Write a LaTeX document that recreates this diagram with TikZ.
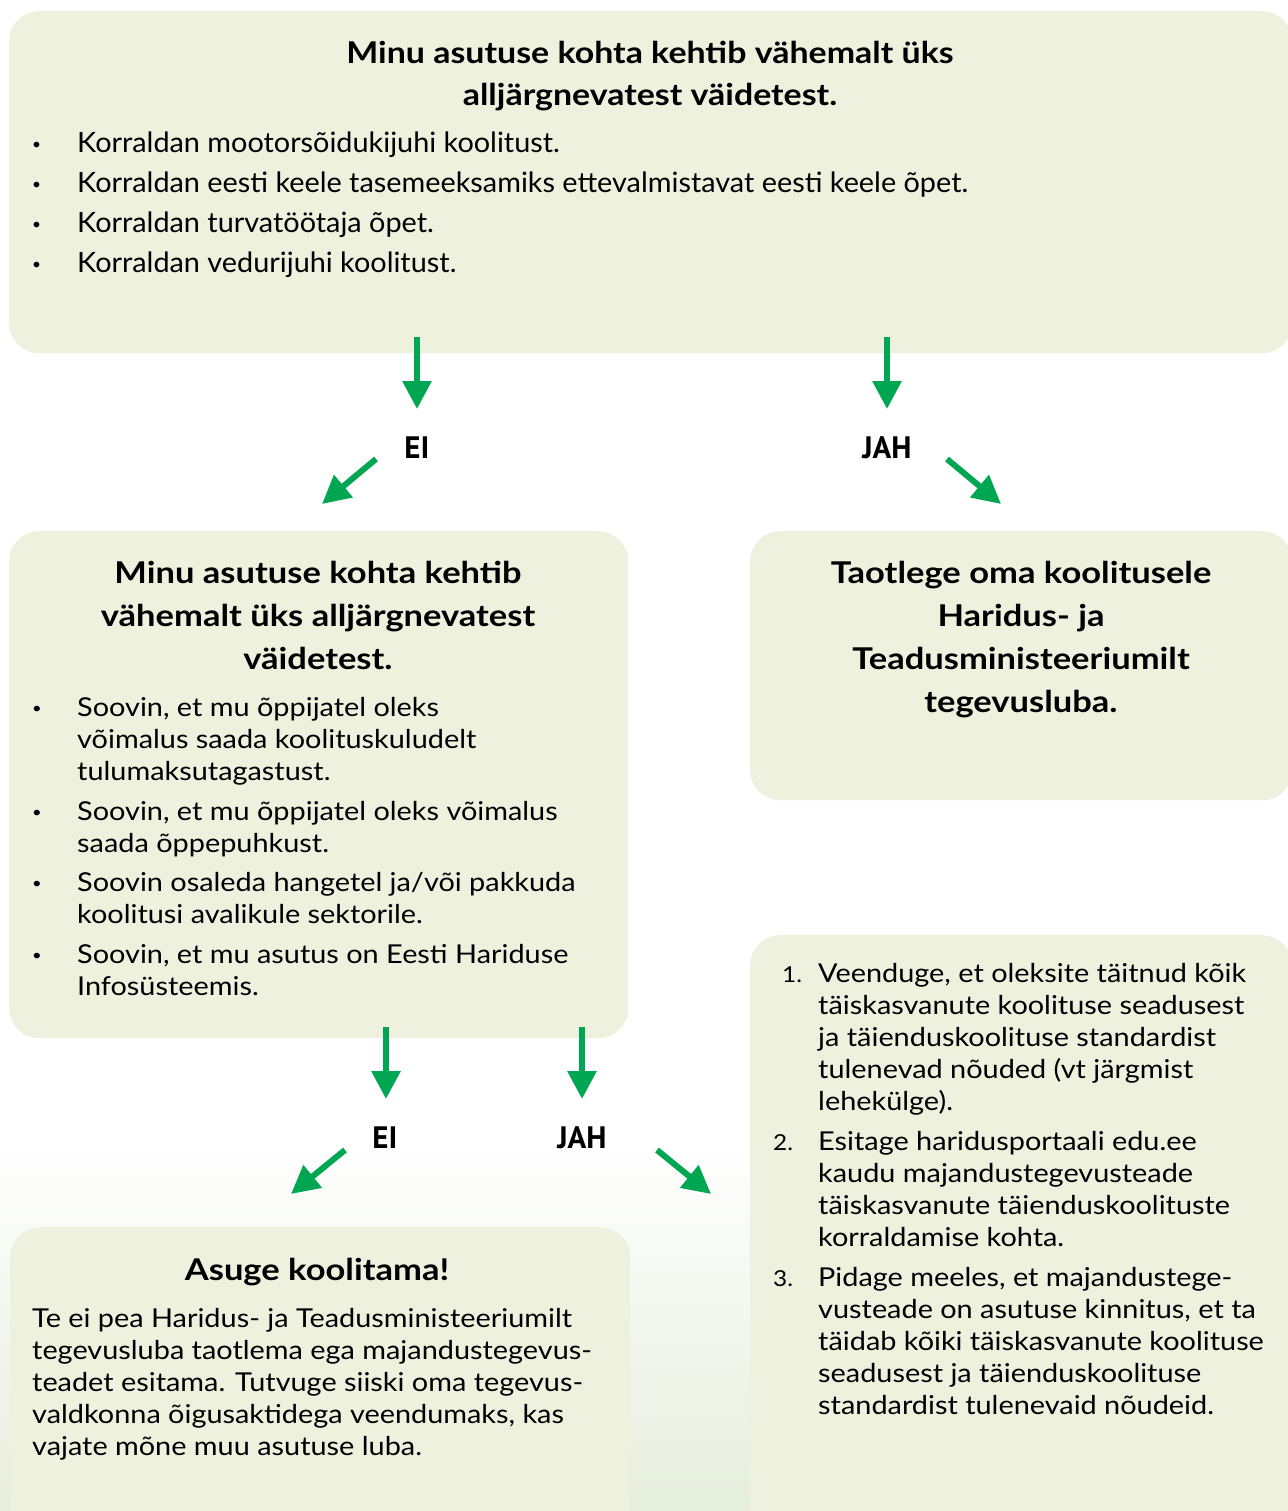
\documentclass[tikz,border=0pt]{standalone}
\usepackage{fontspec}
\setmainfont{Lato}
\newfontfamily\bodyA[FakeStretch=1.03]{Lato}
\newfontfamily\bodyB[FakeStretch=1.11]{Lato}
\newfontfamily\titleA[FakeStretch=1.13]{Lato}
\newfontfamily\titleB[FakeStretch=1.15]{Lato}
\newfontfamily\labelfont{PT Sans}
\usetikzlibrary{arrows.meta}
\definecolor{boxfill}{RGB}{237,241,222}
\definecolor{arrowgreen}{RGB}{0,166,81}
\definecolor{bgbottom}{RGB}{230,238,221}
\newcommand{\bl}{\leavevmode\llap{\makebox[45pt][l]{\raisebox{3pt}{\fontsize{15}{15}\selectfont •}}}}
\newcommand{\nm}[2]{\leavevmode\llap{\makebox[#1][l]{\fontsize{22}{22}\selectfont #2}}}
\begin{document}
\begin{tikzpicture}[x=1pt,y=-1pt,
  box/.style={fill=boxfill, rounded corners=30pt, inner sep=0pt, anchor=north west, draw=none},
  bodybig/.style={anchor=base west, inner sep=0pt, font=\bodyA\fontsize{28}{40}\selectfont},
  body/.style={anchor=base west, inner sep=0pt, font=\bodyB\fontsize{26}{32}\selectfont},
  titletop/.style={anchor=base, inner sep=0pt, font=\titleA\bfseries\fontsize{30}{42}\selectfont},
  title/.style={anchor=base, inner sep=0pt, font=\titleB\bfseries\fontsize{30}{43}\selectfont},
  yesno/.style={anchor=base, inner sep=0pt, font=\labelfont\bfseries\fontsize{31}{31}\selectfont},
  garrow/.style={draw=arrowgreen, line width=6pt, -{Triangle[length=28pt,width=28pt]}}
]
\useasboundingbox (0,0) rectangle (1287,1511);
\fill[white] (0,0) rectangle (1287,1511);
\shade[top color=white, bottom color=bgbottom] (0,1140) rectangle (1287,1511);

% boxes
\node[box, minimum width=1283pt, minimum height=342pt] (b1) at (9,11) {};
\node[box, minimum width=619pt, minimum height=507pt] (b2) at (9,531) {};
\node[box, minimum width=542pt, minimum height=269pt] (b3) at (750,531) {};
\node[box, minimum width=542pt, minimum height=620pt] (b4) at (750,935) {};
\node[box, minimum width=620pt, minimum height=330pt] (b5) at (10,1227) {};

% top box
\node[titletop] (t1) at (650,64) {\parbox[t]{1000pt}{\centering Minu asutuse kohta kehtib vähemalt üks\\ alljärgnevatest väidetest.}};
\node[bodybig] (l1) at (77,153) {\parbox[t]{1150pt}{\raggedright
\bl Korraldan mootorsõidukijuhi koolitust.\\
\bl Korraldan eesti keele tasemeeksamiks ettevalmistavat eesti keele õpet.\\
\bl Korraldan turvatöötaja õpet.\\
\bl Korraldan vedurijuhi koolitust.}};

% middle left box
\node[title] (t2) at (318,583) {\parbox[t]{600pt}{\centering Minu asutuse kohta kehtib\\ vähemalt üks alljärgnevatest\\ väidetest.}};
\node[body] (l2) at (77,716) {\parbox[t]{560pt}{\raggedright
\bl Soovin, et mu õppijatel oleks\\
võimalus saada koolituskuludelt\\
tulumaksutagastust.\\[8pt]
\bl Soovin, et mu õppijatel oleks võimalus\\
saada õppepuhkust.\\[7pt]
\bl Soovin osaleda hangetel ja/või pakkuda\\
koolitusi avalikule sektorile.\\[8pt]
\bl Soovin, et mu asutus on Eesti Hariduse\\
Infosüsteemis.}};

% right top box
\node[title] (t3) at (1021,583) {\parbox[t]{520pt}{\centering Taotlege oma koolitusele\\ Haridus- ja\\ Teadusministeeriumilt\\ tegevusluba.}};

% right bottom box
\node[body] (l3) at (818,982) {\parbox[t]{460pt}{\raggedright
\nm{36pt}{1.}Veenduge, et oleksite täitnud kõik\\
täiskasvanute koolituse seadusest\\
ja täienduskoolituse standardist\\
tulenevad nõuded (vt järgmist\\
lehekülge).\\[8pt]
\nm{45pt}{2.}Esitage haridusportaali edu.ee\\
kaudu majandustegevusteade\\
täiskasvanute täienduskoolituste\\
korraldamise kohta.\\[8pt]
\nm{45pt}{3.}Pidage meeles, et majandustege-\\
vusteade on asutuse kinnitus, et ta\\
täidab kõiki täiskasvanute koolituse\\
seadusest ja täienduskoolituse\\
standardist tulenevaid nõudeid.}};

% bottom left box
\node[title] (t4) at (317,1280) {Asuge koolitama!};
\node[body] (l4) at (32,1327) {\parbox[t]{600pt}{\raggedright
Te ei pea Haridus- ja Teadusministeeriumilt\\
tegevusluba taotlema ega majandustegevus-\\
teadet esitama. Tutvuge siiski oma tegevus-\\
valdkonna õigusaktidega veendumaks, kas\\
vajate mõne muu asutuse luba.}};

% yes/no labels
\node[yesno] (ei1) at (417,458) {EI};
\node[yesno] (jah1) at (887,458) {JAH};
\node[yesno] (ei2) at (385,1148) {EI};
\node[yesno] (jah2) at (582,1148) {JAH};

% arrow coordinates
\coordinate (a1s) at (417,337); \coordinate (a1e) at (417,409);
\coordinate (a2s) at (887,337); \coordinate (a2e) at (887,409);
\coordinate (a3s) at (376,459); \coordinate (a3e) at (322,504);
\coordinate (a4s) at (947,459); \coordinate (a4e) at (1001,504);
\coordinate (a5s) at (386,1027); \coordinate (a5e) at (386,1099);
\coordinate (a6s) at (582,1027); \coordinate (a6e) at (582,1099);
\coordinate (a7s) at (345,1150); \coordinate (a7e) at (291,1194);
\coordinate (a8s) at (657,1150); \coordinate (a8e) at (711,1194);

\draw[garrow] (a1s) -- (a1e);
\draw[garrow] (a2s) -- (a2e);
\draw[garrow] (a3s) -- (a3e);
\draw[garrow] (a4s) -- (a4e);
\draw[garrow] (a5s) -- (a5e);
\draw[garrow] (a6s) -- (a6e);
\draw[garrow] (a7s) -- (a7e);
\draw[garrow] (a8s) -- (a8e);
\end{tikzpicture}
\end{document}
